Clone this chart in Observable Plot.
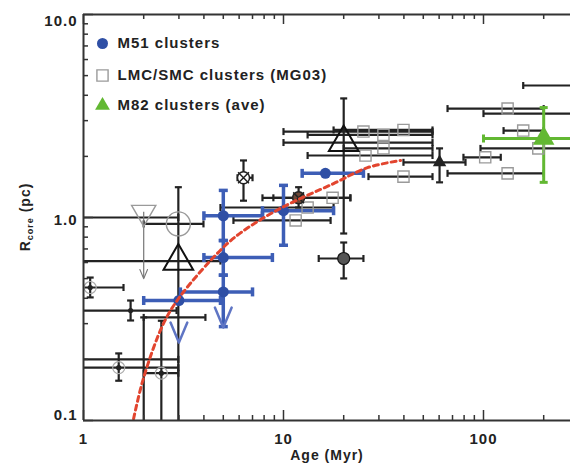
<!DOCTYPE html>
<html><head><meta charset="utf-8">
<script src="https://cdn.jsdelivr.net/npm/d3@7"></script>
<script src="https://cdn.jsdelivr.net/npm/@observablehq/plot@0.6"></script>
<style>
body{margin:0;background:#fff;}
svg text{letter-spacing:1px;}
</style></head><body><div id="chart"></div>
<script>
// ---- data ----
// red dashed model curve
const curveAge = [1.78, 2.0, 2.51, 3.05, 4.84, 6.1, 9.66, 17.8, 26.3, 38.5];
const curveR   = [0.102, 0.163, 0.30, 0.41, 0.69, 0.84, 1.11, 1.47, 1.76, 1.91];

// M51 clusters (blue)
const m51Age   = [16.2, 10.0, 5.0, 5.0, 5.0, 3.0];
const m51R     = [1.65, 1.08, 1.02, 0.635, 0.43, 0.39];
const m51AgeLo = [12.4, 7.85, 4.0, 4.0, 3.05, 2.0];
const m51AgeHi = [25.1, 17.8, 7.85, 8.8, 7.0, 4.84];
const m51RLo   = [null, 0.73, 0.77, 0.52, 0.29, null];
const m51RHi   = [null, 1.44, 1.36, 0.77, 0.52, null];
const m51Limit = [null, null, null, null, 0.287, 0.242];

// LMC/SMC clusters (MG03)
const lmcAge   = [25.1, 31.6, 39.8, 25.7, 31.6, 39.8, 11.5, 17.6, 13.2, 102, 132, 132, 158, 188, 400, 400];
const lmcR     = [2.65, 2.55, 2.70, 2.02, 2.19, 1.59, 0.967, 1.25, 1.12, 1.98, 1.65, 3.44, 2.68, 2.19, 4.47, 3.25];
const lmcAgeLo = [10.0, 13.2, 17.8, 13.2, 20.0, 26.6, 5.62, 8.9, 4.84, 79.4, 66.1, 66.1, 126, 96.6, 158, 100];
const lmcAgeHi = [55.6, 55.6, 55.6, 55.6, 55.6, 55.6, 17.2, 21.6, 17.8, 122, 200, 200, 200, 400, 800, 800];

// M82 clusters (ave)
const m82Age = [200], m82R = [2.45], m82AgeLo = [100], m82AgeHi = [400], m82RLo = [1.49], m82RHi = [3.48];

// other young clusters (black error bars)
const litAge   = [6.31, 11.9, 20.0, 20.0, 60.3, 2.98, 2.0, 2.98, 1.08, 1.72, 1.5, 1.5, 2.0, 2.45];
const litR     = [1.57, 1.25, 0.628, 2.34, 1.87, 0.93, 1.0, 0.61, 0.452, 0.348, 0.2, 0.182, 0.322, 0.171];
const litAgeLo = [5.89, 7.85, 15.0, 10.0, 39.8, 2.0, 0.9, 0.9, 0.9, 0.9, 0.9, 0.9, 2.0, 2.0];
const litAgeHi = [7.0, 21.6, 25.1, 55.6, 81.3, 3.98, 2.98, 4.84, 1.585, 2.92, 2.98, 2.98, 4.07, 2.98];
const litRLo   = [1.21, 1.12, 0.501, 0.834, 1.49, 0.09, null, null, 0.404, 0.311, null, 0.157, 0.09, 0.09];
const litRHi   = [1.91, 1.41, 0.753, 3.86, 2.19, 1.41, null, null, 0.506, 0.39, null, 0.214, 0.322, 0.31];
const litKind  = ["otimes", "otimesDark", "filled", "bigTri", "smallTri", "bigCircle", "none", "bigTri", "ring", "dot", "none", "ring", "none", "ring"];

// gray upper limit (open down triangle)
const limAge = [2.0], limR = [1.06], limTo = [0.5];

// axis ticks
const xMajor = [1, 10, 100];
const xMinor = [2, 3, 4, 5, 6, 7, 8, 9, 20, 30, 40, 50, 60, 70, 80, 90, 200];
const yMajor = [0.1, 1, 10];
const yMinor = [0.2, 0.3, 0.4, 0.5, 0.6, 0.7, 0.8, 0.9, 2, 3, 4, 5, 6, 7, 8, 9];

// legend
const legendLabels = ["M51 clusters", "LMC/SMC clusters (MG03)", "M82 clusters (ave)"];

// ---- build tables ----
const rows = (age, r, lo, hi, rlo, rhi, extra = {}) => age.map((a, i) => {
  const o = {age: a, r: r[i], xlo: lo ? lo[i] : null, xhi: hi ? hi[i] : null,
             rlo: rlo ? rlo[i] : null, rhi: rhi ? rhi[i] : null};
  for (const k in extra) o[k] = extra[k][i];
  return o;
});
const m51 = rows(m51Age, m51R, m51AgeLo, m51AgeHi, m51RLo, m51RHi, {lim: m51Limit});
const lmc = rows(lmcAge, lmcR, lmcAgeLo, lmcAgeHi, null, null);
const m82 = rows(m82Age, m82R, m82AgeLo, m82AgeHi, m82RLo, m82RHi);
const lit = rows(litAge, litR, litAgeLo, litAgeHi, litRLo, litRHi, {kind: litKind});
const lim = rows(limAge, limR, null, null, null, null, {to: limTo});
const curve = curveAge.map((a, i) => ({age: a, r: curveR[i]}));

const lineShape = {draw(ctx, l) { ctx.moveTo(0, 0); ctx.lineTo(0, -l); }};
const vShape = {draw(ctx, l) { ctx.moveTo(-l * 0.42, -l); ctx.lineTo(0, 0); ctx.lineTo(l * 0.42, -l); }};

function errorBars(data, color, sw, cap) {
  const h = data.filter(d => d.xlo != null);
  const v = data.filter(d => d.rlo != null);
  const common = {stroke: color, strokeWidth: sw, clip: true};
  const capO = {length: cap, anchor: "middle", shape: lineShape, ...common, strokeLinecap: "butt"};
  return [
    Plot.ruleY(h, {y: "r", x1: "xlo", x2: "xhi", ...common}),
    Plot.ruleX(v, {x: "age", y1: "rlo", y2: "rhi", ...common}),
    Plot.vector(h, {x: "xlo", y: "r", ...capO}),
    Plot.vector(h, {x: "xhi", y: "r", ...capO}),
    Plot.vector(v, {x: "age", y: "rlo", rotate: 90, ...capO}),
    Plot.vector(v, {x: "age", y: "rhi", rotate: 90, ...capO})
  ];
}

const W = 570, H = 467, ML = 83, MR = 0, MT = 14, MB = 47;
const PW = W - ML - MR, PH = H - MT - MB;
const blue = "#2f4fa5", blueBar = "#3d5eb6", blueLim = "#5f75c4";
const gray = "#9a9a9a", black = "#222", green = "#62b832", red = "#e2452f", axisC = "#333";
const kind = k => lit.filter(d => d.kind === k);
const tk = {stroke: axisC, strokeWidth: 1.5};
const lbl = {fontSize: 15, fontWeight: "bold"};

const plot = Plot.plot({
  width: W, height: H,
  marginLeft: ML, marginRight: MR, marginTop: MT, marginBottom: MB,
  x: {type: "log", domain: [1, 272.3]},
  y: {type: "log", domain: [0.1, 10]},
  style: {fontFamily: "'Liberation Sans', Arial, sans-serif", fontSize: "15px", fontWeight: "bold", color: "#222", background: "#fff"},
  marks: [
    // black error bars
    ...errorBars(lit, black, 2.2, 7),
    Plot.ruleX(lim, {x: "age", y1: "r", y2: "to", stroke: "#777", strokeWidth: 1.2, clip: true}),
    Plot.vector(lim, {x: "age", y: "to", length: 9, anchor: "start", shape: vShape, stroke: "#777", strokeWidth: 1.2}),
    ...errorBars(lmc, black, 2.2, 7),
    ...errorBars(m82, green, 3, 8),
    ...errorBars(m51, blueBar, 3.5, 9),
    // upper-limit arrowheads for M51
    Plot.vector(m51.filter(d => d.lim != null), {x: "age", y: "lim", length: 20, anchor: "start", shape: vShape, stroke: blueLim, strokeWidth: 2.5}),
    // markers
    Plot.dot(lmc, {x: "age", y: "r", symbol: "square", r: 6.3, stroke: gray, strokeWidth: 1.4, fill: "none", clip: true}),
    Plot.dot(lim, {x: "age", y: "r", symbol: "triangle", rotate: 180, r: 9, stroke: gray, strokeWidth: 1.4, fill: "none"}),
    Plot.dot(kind("bigCircle"), {x: "age", y: "r", r: 12, stroke: gray, strokeWidth: 1.4, fill: "none"}),
    Plot.dot(kind("ring"), {x: "age", y: "r", r: 6, stroke: "#aaa", strokeWidth: 1.2, fill: "none"}),
    Plot.dot(kind("ring").concat(kind("dot")), {x: "age", y: "r", r: 2.6, fill: black}),
    Plot.dot(kind("otimes"), {x: "age", y: "r", r: 6, stroke: black, strokeWidth: 1.5, fill: "#fff"}),
    Plot.dot(kind("otimesDark"), {x: "age", y: "r", r: 6, stroke: black, strokeWidth: 1.5, fill: "#6a4535"}),
    Plot.dot(kind("otimes").concat(kind("otimesDark")), {x: "age", y: "r", symbol: "times", r: 5, stroke: black, strokeWidth: 1.5}),
    Plot.dot(kind("filled"), {x: "age", y: "r", r: 6, stroke: "#111", strokeWidth: 1.2, fill: "#555"}),
    Plot.dot(kind("bigTri"), {x: "age", y: "r", symbol: "triangle", r: 11, stroke: "#111", strokeWidth: 2, fill: "none"}),
    Plot.dot(kind("smallTri"), {x: "age", y: "r", symbol: "triangle", r: 5, fill: black}),
    Plot.dot(m82, {x: "age", y: "r", symbol: "triangle", r: 8, fill: green, clip: true}),
    Plot.dot(m51, {x: "age", y: "r", r: 5.5, fill: blue}),
    // model curve
    Plot.line(curve, {x: "age", y: "r", stroke: red, strokeWidth: 3, strokeDasharray: "5,4", curve: "catmull-rom"}),
    // axes lines
    Plot.ruleX([1], {stroke: axisC, strokeWidth: 2}),
    Plot.ruleY([0.1], {stroke: axisC, strokeWidth: 2}),
    Plot.ruleY([10], {stroke: axisC, strokeWidth: 2}),
    // inward ticks
    Plot.tickX(xMinor, {x: d => d, insetTop: PH - 5, ...tk}),
    Plot.tickX(xMajor, {x: d => d, insetTop: PH - 10, ...tk}),
    Plot.tickX(xMinor, {x: d => d, insetBottom: PH - 5, ...tk}),
    Plot.tickX(xMajor, {x: d => d, insetBottom: PH - 10, ...tk}),
    Plot.tickY(yMinor, {y: d => d, insetRight: PW - 5, ...tk}),
    Plot.tickY(yMajor, {y: d => d, insetRight: PW - 10, ...tk}),
    // tick labels
    Plot.axisX(xMajor, {tickSize: 0, tickPadding: 13, tickFormat: d => String(d), label: null, fontSize: 15}),
    Plot.axisY([yMajor[2]], {tickSize: 0, tickPadding: 6, tickFormat: d3.format(".1f"), label: null, fontSize: 15, dy: 7}),
    Plot.axisY([yMajor[1]], {tickSize: 0, tickPadding: 6, tickFormat: d3.format(".1f"), label: null, fontSize: 15, dy: 3}),
    Plot.axisY([yMajor[0]], {tickSize: 0, tickPadding: 6, tickFormat: d3.format(".1f"), label: null, fontSize: 15, dy: -5}),
    Plot.text(["Age (Myr)"], {frameAnchor: "bottom", dy: 39, fontSize: 14, fontWeight: "bold"}),
    // legend
    Plot.dot([legendLabels[0]], {frameAnchor: "top-left", dx: 19, dy: 29, r: 5.5, fill: blue}),
    Plot.dot([legendLabels[1]], {frameAnchor: "top-left", dx: 19, dy: 61, symbol: "square", r: 6.3, stroke: gray, strokeWidth: 1.4, fill: "none"}),
    Plot.dot([legendLabels[2]], {frameAnchor: "top-left", dx: 19, dy: 91, symbol: "triangle", r: 5.5, fill: green}),
    Plot.text([legendLabels[0]], {frameAnchor: "top-left", dx: 34, dy: 29, text: d => d, textAnchor: "start", lineAnchor: "middle", ...lbl}),
    Plot.text([legendLabels[1]], {frameAnchor: "top-left", dx: 34, dy: 61, text: d => d, textAnchor: "start", lineAnchor: "middle", ...lbl}),
    Plot.text([legendLabels[2]], {frameAnchor: "top-left", dx: 34, dy: 91, text: d => d, textAnchor: "start", lineAnchor: "middle", ...lbl})
  ]
});

document.getElementById("chart").appendChild(plot);

// y axis title with subscript
const svg = d3.select(plot);
const t = svg.append("text")
  .attr("transform", "translate(30,217) rotate(-90)")
  .attr("text-anchor", "middle")
  .attr("font-size", 14).attr("font-weight", "bold").attr("fill", "#222");
t.append("tspan").text("R");
t.append("tspan").attr("font-size", 9).attr("dy", 3).text("core");
t.append("tspan").attr("dy", -3).text(" (pc)");
</script>
</body></html>
